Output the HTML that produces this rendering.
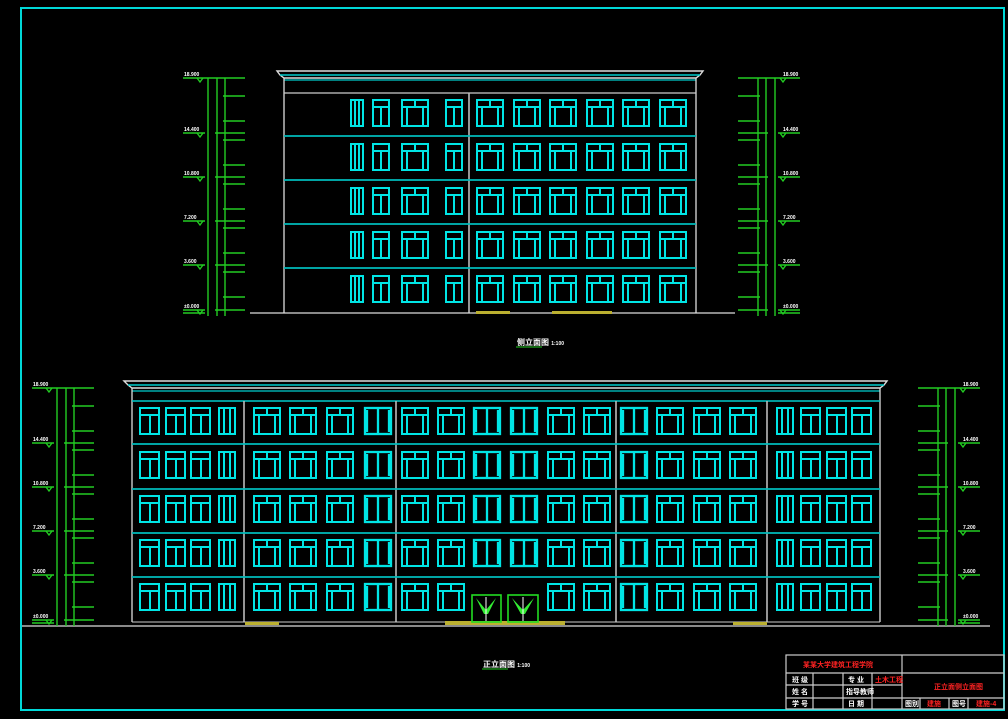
<!DOCTYPE html>
<html><head><meta charset="utf-8"><style>
html,body{margin:0;padding:0;background:#000;}
svg{display:block}
text{font-family:"Liberation Sans","Noto Sans CJK SC",sans-serif;font-weight:bold;}
</style></head><body>
<svg width="1008" height="719" viewBox="0 0 1008 719" xmlns="http://www.w3.org/2000/svg">
<defs>
<g id="wA" fill="none" stroke="#00e5e5" stroke-width="2"><rect x="0" y="0" width="26" height="26"/><line x1="0" y1="7" x2="26" y2="7"/><line x1="13" y1="0" x2="13" y2="7"/><line x1="5" y1="7" x2="5" y2="26"/><line x1="21" y1="7" x2="21" y2="26"/></g>
<g id="wB" fill="none" stroke="#00e5e5" stroke-width="2"><rect x="0" y="0" width="16" height="26"/><line x1="0" y1="7" x2="16" y2="7"/><line x1="8" y1="7" x2="8" y2="26"/></g>
<g id="wS" fill="none" stroke="#00e5e5" stroke-width="2"><rect x="0" y="0" width="19" height="26"/><line x1="0" y1="7" x2="19" y2="7"/><line x1="10" y1="7" x2="10" y2="26"/></g>
<g id="wC" fill="none" stroke="#00e5e5" stroke-width="2"><rect x="0" y="0" width="12" height="26"/><line x1="4" y1="0" x2="4" y2="26"/><line x1="8" y1="0" x2="8" y2="26"/></g>
<g id="wD" fill="none" stroke="#00e5e5" stroke-width="2.3"><rect x="0" y="0" width="26" height="26"/><line x1="13" y1="0" x2="13" y2="26"/><line x1="2" y1="2" x2="2" y2="24"/><line x1="24" y1="2" x2="24" y2="24"/></g>
<g id="wE" fill="none" stroke="#00e5e5" stroke-width="2"><rect x="0" y="0" width="16" height="26"/><line x1="5" y1="0" x2="5" y2="26"/><line x1="11" y1="0" x2="11" y2="26"/></g>
<g id="rowTop">
<use href="#wC" x="351"/><use href="#wB" x="373"/><use href="#wA" x="402"/><use href="#wB" x="446"/>
<use href="#wA" x="477"/><use href="#wA" x="514"/><use href="#wA" x="550"/><use href="#wA" x="587"/><use href="#wA" x="623"/><use href="#wA" x="660"/>
</g>
<g id="rowBotA">
<use href="#wS" x="140"/><use href="#wS" x="166"/><use href="#wS" x="191"/><use href="#wE" x="219"/>
<use href="#wA" x="254"/><use href="#wA" x="290"/><use href="#wA" x="327"/><use href="#wD" x="365"/>
<use href="#wA" x="402"/><use href="#wA" x="438"/>
<use href="#wA" x="548"/><use href="#wA" x="584"/>
<use href="#wD" x="621"/><use href="#wA" x="657"/><use href="#wA" x="694"/><use href="#wA" x="730"/>
<use href="#wE" x="777"/><use href="#wS" x="801"/><use href="#wS" x="827"/><use href="#wS" x="852"/>
</g>
<g id="rowBotMid"><use href="#wD" x="474"/><use href="#wD" x="511"/></g>
<g id="dim" stroke="#22cc22" stroke-width="1.4" fill="none">
<line x1="25" y1="0" x2="25" y2="238"/><line x1="34" y1="0" x2="34" y2="238"/><line x1="42" y1="0" x2="42" y2="238"/>
<line x1="0" y1="0" x2="62" y2="0"/>
<line x1="0" y1="55" x2="22" y2="55"/><line x1="0" y1="99" x2="22" y2="99"/><line x1="0" y1="143" x2="22" y2="143"/><line x1="0" y1="187" x2="22" y2="187"/><line x1="0" y1="232" x2="22" y2="232"/><line x1="0" y1="235" x2="22" y2="235"/>
<path d="M14 0l3 4 3-4M14 55l3 4 3-4M14 99l3 4 3-4M14 143l3 4 3-4M14 187l3 4 3-4M14 232l3 4 3-4"/>
<line x1="40" y1="18" x2="62" y2="18"/>
<line x1="40" y1="43" x2="62" y2="43"/><line x1="32" y1="55" x2="62" y2="55"/><line x1="40" y1="62" x2="62" y2="62"/>
<line x1="40" y1="87" x2="62" y2="87"/><line x1="32" y1="99" x2="62" y2="99"/><line x1="40" y1="106" x2="62" y2="106"/>
<line x1="40" y1="131" x2="62" y2="131"/><line x1="32" y1="143" x2="62" y2="143"/><line x1="40" y1="150" x2="62" y2="150"/>
<line x1="40" y1="175" x2="62" y2="175"/><line x1="32" y1="187" x2="62" y2="187"/><line x1="40" y1="194" x2="62" y2="194"/>
<line x1="40" y1="219" x2="62" y2="219"/><line x1="32" y1="232" x2="62" y2="232"/>
</g>
</defs>

<rect x="21" y="8" width="983" height="702" fill="none" stroke="#00d8d8" stroke-width="2"/>

<!-- TOP BUILDING -->
<path d="M277 71H703L700 75L696 78H284L280 75Z" fill="none" stroke="#ddd" stroke-width="1.4"/>
<line x1="280" y1="75" x2="700" y2="75" stroke="#00cccc" stroke-width="1.5"/>
<line x1="284" y1="80" x2="696" y2="80" stroke="#00cccc" stroke-width="1.3"/>
<line x1="284" y1="78" x2="284" y2="313" stroke="#ddd" stroke-width="1.3"/>
<line x1="696" y1="78" x2="696" y2="313" stroke="#ddd" stroke-width="1.3"/>
<line x1="284" y1="93" x2="696" y2="93" stroke="#ccc" stroke-width="1.3"/>
<line x1="469" y1="93" x2="469" y2="313" stroke="#bbb" stroke-width="1.6"/>
<g stroke="#00bbbb" stroke-width="1.8"><line x1="284" y1="136" x2="696" y2="136"/><line x1="284" y1="180" x2="696" y2="180"/><line x1="284" y1="224" x2="696" y2="224"/><line x1="284" y1="268" x2="696" y2="268"/></g>
<line x1="250" y1="313" x2="735" y2="313" stroke="#ddd" stroke-width="1.3"/>
<rect x="476" y="311" width="34" height="3" fill="#bbb030"/><rect x="552" y="311" width="60" height="3" fill="#bbb030"/>
<use href="#rowTop" y="100"/><use href="#rowTop" y="144"/><use href="#rowTop" y="188"/><use href="#rowTop" y="232"/><use href="#rowTop" y="276"/>

<use href="#dim" transform="translate(183,78)"/>
<use href="#dim" transform="translate(800,78) scale(-1,1)"/>
<g fill="#fff" font-size="5">
<text x="184" y="76">18.900</text><text x="184" y="131">14.400</text><text x="184" y="175">10.800</text><text x="184" y="219">7.200</text><text x="184" y="263">3.600</text><text x="184" y="308">±0.000</text>
<text x="783" y="76">18.900</text><text x="783" y="131">14.400</text><text x="783" y="175">10.800</text><text x="783" y="219">7.200</text><text x="783" y="263">3.600</text><text x="783" y="308">±0.000</text>
</g>
<text x="517" y="345" fill="#fff" font-size="8">侧立面图 <tspan font-size="5">1:100</tspan></text>
<line x1="516" y1="347" x2="542" y2="347" stroke="#22cc22"/>

<!-- BOTTOM BUILDING -->
<path d="M124 381H887L884 385L880 388H132L128 385Z" fill="none" stroke="#ddd" stroke-width="1.4"/>
<line x1="128" y1="385" x2="884" y2="385" stroke="#00cccc" stroke-width="1.5"/>
<line x1="132" y1="391" x2="880" y2="391" stroke="#00cccc" stroke-width="1.3"/>
<line x1="132" y1="388" x2="132" y2="622" stroke="#ddd" stroke-width="1.3"/>
<line x1="880" y1="388" x2="880" y2="622" stroke="#ddd" stroke-width="1.3"/>
<line x1="132" y1="401" x2="880" y2="401" stroke="#00cccc" stroke-width="1.4"/>
<g stroke="#bbb" stroke-width="1.6"><line x1="244" y1="401" x2="244" y2="622"/><line x1="396" y1="401" x2="396" y2="622"/><line x1="616" y1="401" x2="616" y2="622"/><line x1="767" y1="401" x2="767" y2="622"/></g>
<g stroke="#00bbbb" stroke-width="1.8"><line x1="132" y1="444" x2="880" y2="444"/><line x1="132" y1="489" x2="880" y2="489"/><line x1="132" y1="533" x2="880" y2="533"/><line x1="132" y1="577" x2="880" y2="577"/></g>
<line x1="22" y1="626" x2="990" y2="626" stroke="#ddd" stroke-width="1.3"/>
<line x1="132" y1="622" x2="880" y2="622" stroke="#ccc" stroke-width="1"/>
<rect x="445" y="621" width="120" height="4" fill="#bbb030"/><rect x="245" y="622" width="34" height="3" fill="#bbb030"/><rect x="733" y="622" width="34" height="3" fill="#bbb030"/>
<use href="#rowBotA" y="408"/><use href="#rowBotA" y="452"/><use href="#rowBotA" y="496"/><use href="#rowBotA" y="540"/><use href="#rowBotA" y="584"/>
<use href="#rowBotMid" y="408"/><use href="#rowBotMid" y="452"/><use href="#rowBotMid" y="496"/><use href="#rowBotMid" y="540"/>
<g>
<rect x="472" y="595" width="29" height="27" fill="none" stroke="#22dd22" stroke-width="1.6"/>
<rect x="508" y="595" width="30" height="27" fill="none" stroke="#22dd22" stroke-width="1.6"/>
<path d="M476 598l10 12 10-12-8 16h-4z" fill="#33ee33"/><path d="M512 598l11 12 11-12-9 16h-4z" fill="#33ee33"/>
<line x1="486" y1="597" x2="486" y2="621" stroke="#fff" stroke-width="1"/><line x1="523" y1="597" x2="523" y2="621" stroke="#fff" stroke-width="1"/>
</g>

<use href="#dim" transform="translate(32,388)"/>
<use href="#dim" transform="translate(980,388) scale(-1,1)"/>
<g fill="#fff" font-size="5">
<text x="33" y="386">18.900</text><text x="33" y="441">14.400</text><text x="33" y="485">10.800</text><text x="33" y="529">7.200</text><text x="33" y="573">3.600</text><text x="33" y="618">±0.000</text>
<text x="963" y="386">18.900</text><text x="963" y="441">14.400</text><text x="963" y="485">10.800</text><text x="963" y="529">7.200</text><text x="963" y="573">3.600</text><text x="963" y="618">±0.000</text>
</g>
<text x="483" y="667" fill="#fff" font-size="8">正立面图 <tspan font-size="5">1:100</tspan></text>
<line x1="482" y1="669" x2="508" y2="669" stroke="#22cc22"/>

<!-- TITLE BLOCK -->
<g stroke="#ccc" stroke-width="1.2" fill="none">
<rect x="786" y="655" width="218" height="54"/>
<line x1="902" y1="655" x2="902" y2="709"/>
<line x1="786" y1="673" x2="1004" y2="673"/>
<line x1="786" y1="685" x2="902" y2="685"/>
<line x1="786" y1="698" x2="1004" y2="698"/>
<line x1="813" y1="673" x2="813" y2="709"/><line x1="843" y1="673" x2="843" y2="709"/><line x1="872" y1="673" x2="872" y2="709"/>
<line x1="920" y1="698" x2="920" y2="709"/><line x1="949" y1="698" x2="949" y2="709"/><line x1="968" y1="698" x2="968" y2="709"/>
</g>
<g font-size="7">
<text x="803" y="667" fill="#f22">某某大学建筑工程学院</text>
<text x="792" y="682" fill="#fff">班 级</text><text x="848" y="682" fill="#fff">专 业</text><text x="875" y="682" fill="#f22">土木工程</text>
<text x="792" y="694" fill="#fff">姓 名</text><text x="846" y="694" fill="#fff">指导教师</text>
<text x="792" y="706" fill="#fff">学 号</text><text x="848" y="706" fill="#fff">日 期</text>
<text x="934" y="689" fill="#f22">正立面侧立面图</text>
<text x="905" y="706" fill="#fff">图别</text><text x="927" y="706" fill="#f22">建施</text><text x="952" y="706" fill="#fff">图号</text><text x="976" y="706" fill="#f22">建施-4</text>
</g>
</svg>
</body></html>
